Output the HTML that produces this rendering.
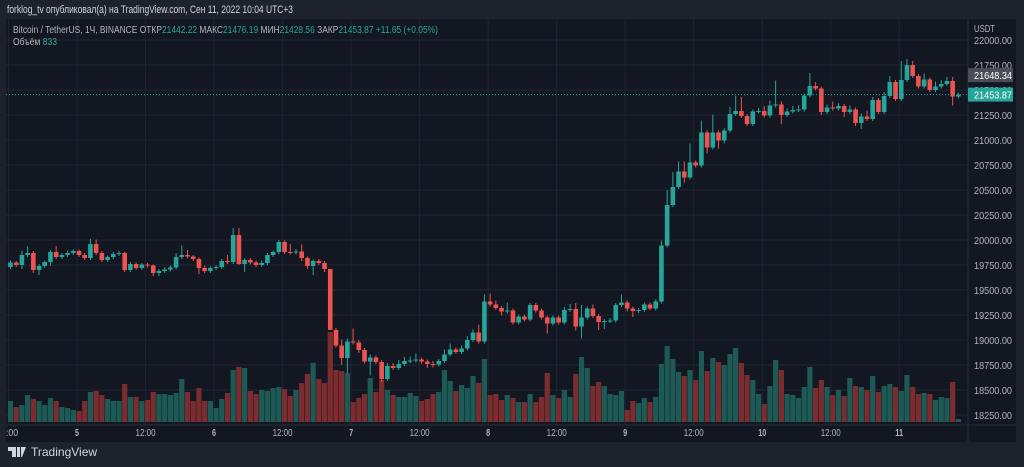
<!DOCTYPE html>
<html><head><meta charset="utf-8"><style>
html,body{margin:0;padding:0;background:#1e222d;width:1024px;height:467px;overflow:hidden;font-family:"Liberation Sans","Noto Sans CJK SC",sans-serif}
#frame{position:absolute;left:6px;top:19px;width:1010px;height:423px;background:#131722}
svg text{font-family:"Liberation Sans","Noto Sans CJK SC",sans-serif}
#foot{position:absolute;left:8px;top:445px;font-size:12px;color:#d1d4dc;display:flex;align-items:center;gap:5px}
</style></head><body>
<div id="frame"></div>
<svg id="chart" width="1024" height="467" style="position:absolute;left:0;top:0">
<text x="7" y="13" fill="#d1d4dc" font-size="11" textLength="286" lengthAdjust="spacingAndGlyphs">forklog_tv опубликовал(а) на TradingView.com, Сен 11, 2022 10:04 UTC+3</text>
</svg>
<div id="foot"><svg width="18" height="10"><path d="M0 0h8v10H4V4H0z M9 0h3v10H9z M13 0h5l-4 10h-1z" fill="#d1d4dc"/></svg><span>TradingView</span></div>
<script>
const firstOpen = 19730;
const closes = [19775,19750,19850,19870,19700,19740,19780,19880,19830,19850,
19870,19890,19850,19820,19960,19870,19800,19830,19860,19870,
19700,19760,19720,19755,19745,19670,19690,19705,19725,19830,
19850,19835,19810,19720,19690,19720,19730,19790,19780,20050,
19760,19800,19775,19750,19770,19850,19880,19980,19880,19875,
19885,19820,19740,19790,19770,19710,19100,18945,18820,18985,
18975,18900,18785,18825,18780,18610,18740,18720,18760,18790,
18795,18805,18785,18760,18755,18790,18855,18905,18880,18915,
19000,19075,18985,19385,19355,19320,19285,19295,19175,19235,
19205,19350,19295,19225,19165,19225,19175,19300,19310,19135,
19225,19315,19240,19180,19190,19195,19350,19375,19315,19290,
19300,19355,19315,19385,19945,20350,20530,20685,20625,20775,
20745,21075,20925,21075,20995,21095,21260,21290,21240,21160,
21285,21290,21245,21345,21355,21250,21285,21300,21305,21445,
21540,21515,21280,21325,21315,21340,21280,21305,21170,21235,
21210,21400,21280,21440,21580,21410,21600,21750,21640,21535,
21605,21500,21535,21560,21590,21435,21454];
const upperWicks = [20,15,40,65,20,20,15,20,60,20,25,15,15,20,50,45,20,15,20,20,
10,20,15,15,15,10,20,20,20,40,95,50,15,15,25,15,15,20,60,70,
70,15,20,20,25,20,15,20,15,80,25,70,15,15,20,20,0,20,60,30,
130,25,20,30,20,20,30,30,40,40,40,60,20,20,30,20,50,60,20,30,
40,30,80,70,80,40,20,80,20,20,20,20,20,20,20,20,20,30,50,60,
125,20,40,20,20,25,20,80,20,20,20,20,20,20,50,150,150,100,100,190,
20,120,20,180,20,20,70,150,140,20,20,30,50,50,240,30,30,40,40,20,
130,40,20,30,60,30,20,40,20,30,60,30,20,40,60,20,190,60,40,20,
60,20,50,40,40,40,20];
const lowerWicks = [20,20,40,20,30,50,20,40,20,20,20,20,20,20,20,20,20,20,20,20,
20,20,20,20,20,30,30,20,20,20,20,20,20,60,20,20,20,20,20,20,
10,80,20,20,20,20,20,20,20,20,20,30,30,90,20,30,0,20,70,150,
20,30,20,140,20,30,20,20,20,20,20,20,20,40,30,20,20,20,20,20,
20,20,20,20,20,20,40,20,20,20,20,20,20,20,100,20,20,20,20,40,
120,20,20,80,70,20,20,20,30,60,20,20,20,20,20,20,20,20,50,20,
20,20,60,20,80,30,20,20,20,20,20,20,20,20,20,90,20,20,20,20,
20,20,30,20,20,20,50,20,30,60,20,20,20,20,20,20,20,20,20,20,
20,20,20,20,20,90,20];
const volumes = [21,15,17,27,23,21,17,24,21,15,14,12,11,21,30,31,27,23,21,21,
38,25,25,21,22,30,28,28,27,29,43,30,21,34,21,21,14,23,29,52,
55,54,31,28,32,31,34,35,33,26,32,39,48,59,43,39,90,52,51,49,
20,24,28,44,30,42,32,27,25,25,29,26,21,23,28,30,52,41,31,37,
34,46,39,63,27,28,22,27,24,20,20,28,20,25,49,27,24,32,25,48,
65,54,36,40,36,28,27,31,12,21,19,24,20,25,58,76,63,50,46,52,
42,71,51,64,60,57,68,74,59,47,42,28,18,36,62,52,28,27,24,35,
55,34,42,35,27,32,26,44,36,35,32,46,30,36,38,35,31,47,35,28,
29,28,22,25,24,40,3];
const priceTicks = [22000,21750,21500,21250,21000,20750,20500,20250,20000,19750,19500,19250,19000,18750,18500,18250];
const timeLabels = [":00","5","12:00","6","12:00","7","12:00","8","12:00","9","12:00","10","12:00","11"];
const timeIdx = [0,12,24,36,48,60,72,84,96,108,120,132,144,156];

const NS="http://www.w3.org/2000/svg";
const svg=document.getElementById('chart');
const PL=6,PR=968,PT=19,PB=442;
const y=p=>40+(22000-p)*0.1;
const x=i=>10.5+i*5.71;
const vy=v=>422-v;
function mk(tag,at){const e=document.createElementNS(NS,tag);for(const k in at)e.setAttribute(k,at[k]);svg.appendChild(e);return e;}
priceTicks.forEach(p=>{const l=mk('line',{x1:PL,x2:PR,y1:y(p),y2:y(p),stroke:'#1f2431','stroke-width':1});

});
timeIdx.forEach(i=>{const l=mk('line',{x1:x(i)-2,x2:x(i)-2,y1:PT,y2:425,stroke:'#1f2431','stroke-width':1});

});
const ax=mk('line',{x1:PR,x2:PR,y1:PT,y2:PB,stroke:'#2a2e39'});


const tx=mk('line',{x1:PL,x2:1016,y1:425,y2:425,stroke:'#2a2e39'});


let prev=firstOpen;
const opens=closes.map(c=>{const o=prev;prev=c;return o;});
volumes.forEach((v,i)=>{const up=closes[i]>=opens[i];
const r=mk('rect',{x:x(i)-2.6,y:vy(v),width:5.2,height:v,fill:up?'#1d5a56':'#7a2c2f'});

});
closes.forEach((c,i)=>{const o=opens[i];const up=c>=o;const col=up?'#26a69a':'#ef5350';
const hi=Math.max(o,c)+upperWicks[i],lo=Math.min(o,c)-lowerWicks[i];
const w=mk('line',{x1:x(i),x2:x(i),y1:y(hi),y2:y(lo),stroke:col,'stroke-width':1});


const t=Math.min(y(o),y(c)),h=Math.max(1,Math.abs(y(o)-y(c)));
const b=mk('rect',{x:x(i)-2.3,y:t,width:4.6,height:h,fill:col});

});
const last=closes[closes.length-1];
const pl=mk('line',{x1:PL,x2:PR,y1:y(last),y2:y(last),stroke:'#26a69a','stroke-dasharray':'1 2','stroke-width':1});


priceTicks.forEach(p=>{const t=mk('text',{x:974,y:y(p)+4,fill:'#b2b5be','font-size':10.5,textLength:38,lengthAdjust:'spacingAndGlyphs'});t.textContent=p.toFixed(2);

});
const u=mk('text',{x:974,y:32,fill:'#b2b5be','font-size':10.5,textLength:21,lengthAdjust:'spacingAndGlyphs'});u.textContent='USDT';


const hb=mk('rect',{x:968,y:y(21648.34)-7,width:45,height:14,fill:'#4a4d55'});


const ht=mk('text',{x:974,y:y(21648.34)+4,fill:'#fff','font-size':10.5,textLength:38,lengthAdjust:'spacingAndGlyphs'});ht.textContent='21648.34';


const lb=mk('rect',{x:968,y:y(last)-7,width:45,height:14,fill:'#26a69a'});


const lt=mk('text',{x:974,y:y(last)+4,fill:'#fff','font-size':10.5,textLength:38,lengthAdjust:'spacingAndGlyphs'});lt.textContent='21453.87';


timeLabels.forEach((s,k)=>{const t=mk('text',{x:x(timeIdx[k])-2,y:436,fill:'#b2b5be','font-size':10.5,'text-anchor':k===0?'start':'middle','font-weight':(s.length<3)?'bold':'normal',textLength:s.length*4,lengthAdjust:'spacingAndGlyphs'});
if(k===0)t.setAttribute('x',6);
t.textContent=s;

});
function leg(yv,parts,name,len){const t=mk('text',{x:13,y:yv,'font-size':10,textLength:len,lengthAdjust:'spacingAndGlyphs'});


t.setAttribute('xml:space','preserve');
parts.forEach(([s,c])=>{const sp=document.createElementNS(NS,'tspan');sp.setAttribute('fill',c);sp.textContent=s;t.appendChild(sp);});}
const G='#26a69a',W='#b2b5be';
leg(33,[['Bitcoin / TetherUS, 1Ч, BINANCE  ОТКР',W],['21442.22',G],['  МАКС',W],['21476.19',G],['  МИН',W],['21428.56',G],['  ЗАКР',W],['21453.87',G],['  +11.65 (+0.05%)',G]],'ohlc-legend',425);
leg(45,[['Объём  ',W],['833',G]],'volume-legend',44);
</script>
</body></html>
